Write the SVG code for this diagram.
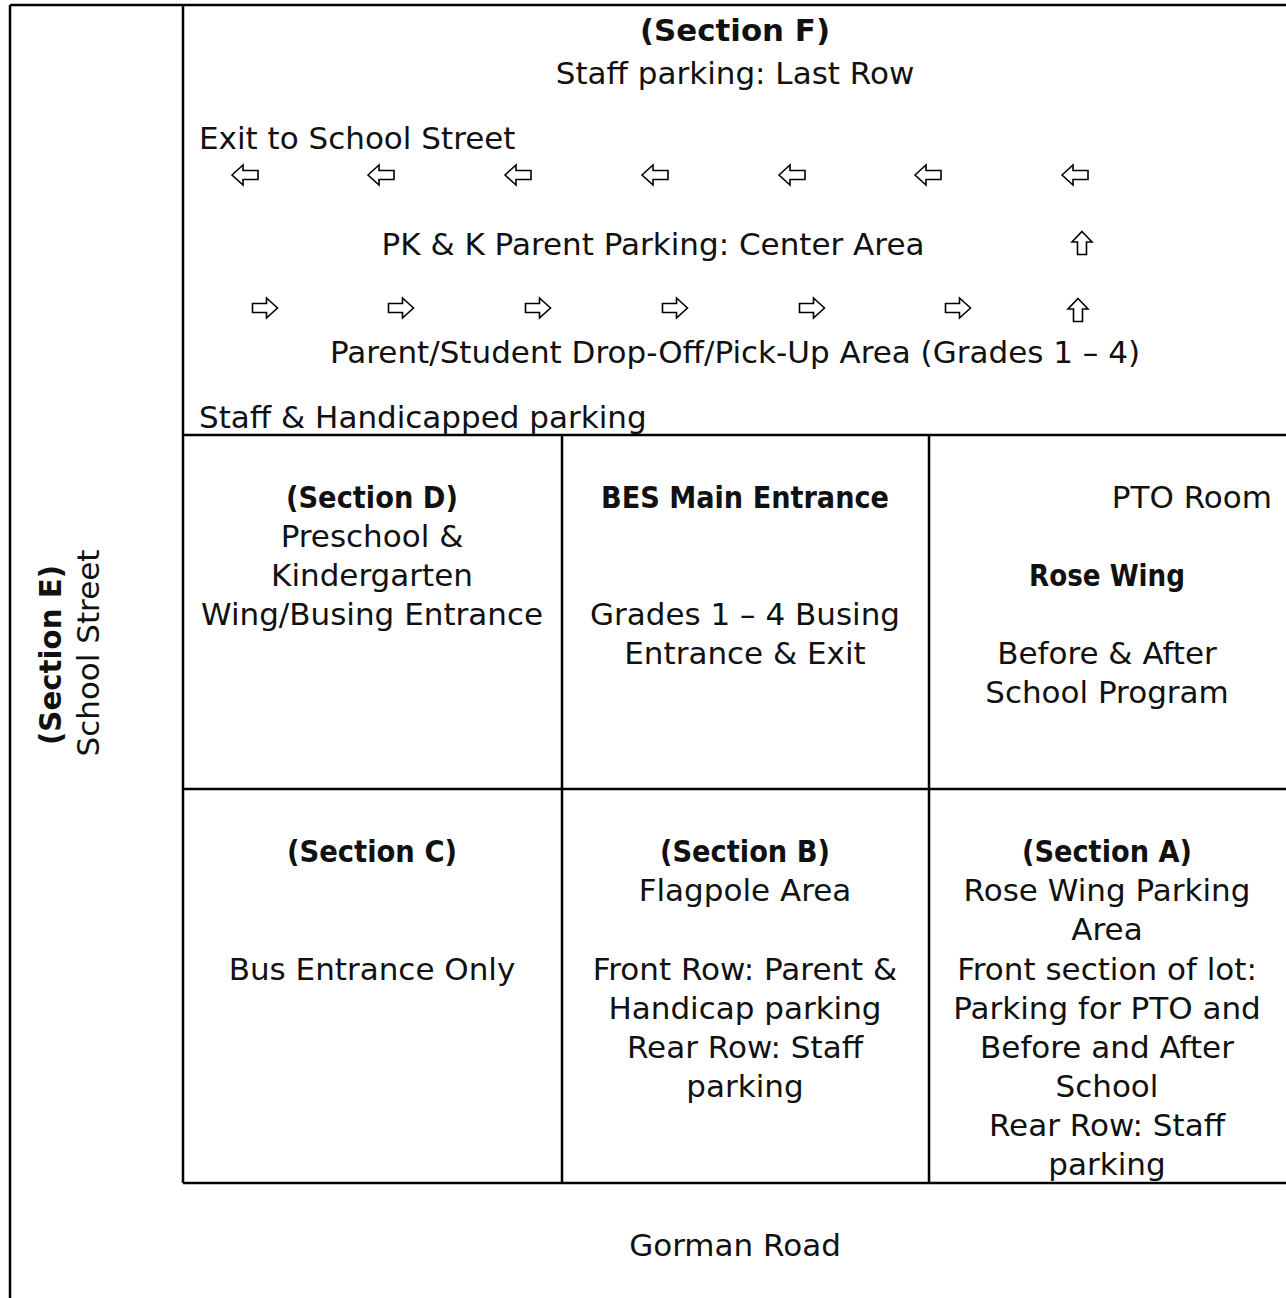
<svg xmlns="http://www.w3.org/2000/svg" width="1286" height="1298" viewBox="0 0 1286 1298">
<style>
  .t { font-family: "Century Gothic", "DejaVu Sans", sans-serif; font-size: 31px; fill: #111; }
  .b { font-weight: bold; }
  .c { text-anchor: middle; }
  .e { text-anchor: end; }
  .ln { stroke: #000; stroke-width: 2.5; fill: none; }
  .arr { fill: #fff; stroke: #000; stroke-width: 1.6; stroke-linejoin: miter; }
</style>
<defs>
  <polygon id="la" class="arr" points="-13,0 -2,-10 -2,-4.5 13,-4.5 13,4.5 -2,4.5 -2,10"/>
  <polygon id="ra" class="arr" points="12.5,0 1.5,-10 1.5,-4.5 -12.5,-4.5 -12.5,4.5 1.5,4.5 1.5,10"/>
  <polygon id="ua" class="arr" points="0,-11.5 10,-1 4.5,-1 4.5,11.5 -4.5,11.5 -4.5,-1 -10,-1"/>
</defs>
<rect width="1286" height="1298" fill="#fff"/>

<g id="grid">
  <line class="ln" x1="10" y1="5" x2="1286" y2="5"/>
  <line class="ln" x1="10" y1="5" x2="10" y2="1298"/>
  <line class="ln" x1="183" y1="5" x2="183" y2="1183"/>
  <line class="ln" x1="183" y1="435" x2="1286" y2="435"/>
  <line class="ln" x1="183" y1="789" x2="1286" y2="789"/>
  <line class="ln" x1="183" y1="1183" x2="1286" y2="1183"/>
  <line class="ln" x1="562" y1="435" x2="562" y2="1183"/>
  <line class="ln" x1="929" y1="435" x2="929" y2="1183"/>
</g>

<g id="section-f">
  <text class="t b c" x="735" y="41" textLength="190" lengthAdjust="spacingAndGlyphs">(Section F)</text>
  <text class="t c" x="735" y="84">Staff parking: Last Row</text>
  <text class="t" x="199" y="149">Exit to School Street</text>
  <text class="t c" x="653" y="255">PK &amp; K Parent Parking: Center Area</text>
  <text class="t c" x="735" y="363">Parent/Student Drop-Off/Pick-Up Area (Grades 1 – 4)</text>
  <text class="t" x="199" y="428">Staff &amp; Handicapped parking</text>
</g>

<g id="connectors">
  <use href="#la" x="245" y="175"/>
  <use href="#la" x="381" y="175"/>
  <use href="#la" x="518" y="175"/>
  <use href="#la" x="655" y="175"/>
  <use href="#la" x="792" y="175"/>
  <use href="#la" x="928" y="175"/>
  <use href="#la" x="1075" y="175"/>
  <use href="#ua" x="1082" y="243"/>
  <use href="#ra" x="265" y="308"/>
  <use href="#ra" x="401" y="308"/>
  <use href="#ra" x="538" y="308"/>
  <use href="#ra" x="675" y="308"/>
  <use href="#ra" x="812" y="308"/>
  <use href="#ra" x="958" y="308"/>
  <use href="#ua" x="1078" y="310"/>
</g>

<g id="section-e">
  <text class="t b c" transform="translate(61,655) rotate(-90)" textLength="180" lengthAdjust="spacingAndGlyphs">(Section E)</text>
  <text class="t c" transform="translate(99,653) rotate(-90)">School Street</text>
</g>

<g id="section-d">
  <text class="t b c" x="372" y="508" textLength="172" lengthAdjust="spacingAndGlyphs">(Section D)</text>
  <text class="t c" x="372" y="547">Preschool &amp;</text>
  <text class="t c" x="372" y="586">Kindergarten</text>
  <text class="t c" x="372" y="625">Wing/Busing Entrance</text>
</g>

<g id="main-entrance">
  <text class="t b c" x="745" y="508" textLength="288" lengthAdjust="spacingAndGlyphs">BES Main Entrance</text>
  <text class="t c" x="745" y="625">Grades 1 – 4 Busing</text>
  <text class="t c" x="745" y="664">Entrance &amp; Exit</text>
</g>

<g id="rose-wing">
  <text class="t e" x="1272" y="508">PTO Room</text>
  <text class="t b c" x="1107" y="586" textLength="156" lengthAdjust="spacingAndGlyphs">Rose Wing</text>
  <text class="t c" x="1107" y="664">Before &amp; After</text>
  <text class="t c" x="1107" y="703">School Program</text>
</g>

<g id="section-c">
  <text class="t b c" x="372" y="862" textLength="170" lengthAdjust="spacingAndGlyphs">(Section C)</text>
  <text class="t c" x="372" y="980">Bus Entrance Only</text>
</g>

<g id="section-b">
  <text class="t b c" x="745" y="862" textLength="170" lengthAdjust="spacingAndGlyphs">(Section B)</text>
  <text class="t c" x="745" y="901">Flagpole Area</text>
  <text class="t c" x="745" y="980">Front Row: Parent &amp;</text>
  <text class="t c" x="745" y="1019">Handicap parking</text>
  <text class="t c" x="745" y="1058">Rear Row: Staff</text>
  <text class="t c" x="745" y="1097">parking</text>
</g>

<g id="section-a">
  <text class="t b c" x="1107" y="862" textLength="170" lengthAdjust="spacingAndGlyphs">(Section A)</text>
  <text class="t c" x="1107" y="901">Rose Wing Parking</text>
  <text class="t c" x="1107" y="940">Area</text>
  <text class="t c" x="1107" y="980">Front section of lot:</text>
  <text class="t c" x="1107" y="1019">Parking for PTO and</text>
  <text class="t c" x="1107" y="1058">Before and After</text>
  <text class="t c" x="1107" y="1097">School</text>
  <text class="t c" x="1107" y="1136">Rear Row: Staff</text>
  <text class="t c" x="1107" y="1175">parking</text>
</g>

<g id="road">
  <text class="t c" x="735" y="1256">Gorman Road</text>
</g>
</svg>
